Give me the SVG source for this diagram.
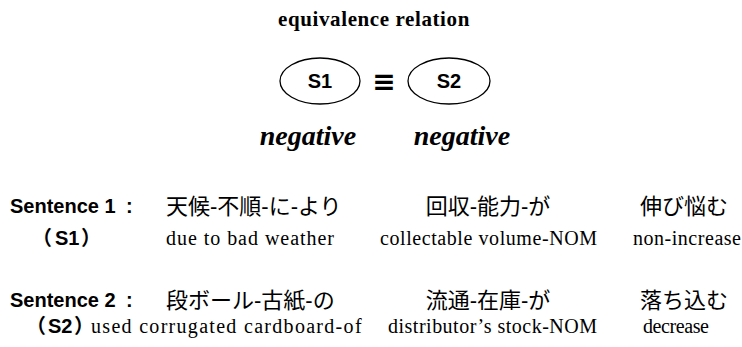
<svg xmlns="http://www.w3.org/2000/svg" width="742" height="347" viewBox="0 0 742 347">
<style>
.title{font-family:"Liberation Serif","Times New Roman",serif;font-weight:bold;font-size:21px;letter-spacing:0.6px;fill:#000}
.neg{font-family:"Liberation Serif","Times New Roman",serif;font-weight:bold;font-style:italic;font-size:28px;fill:#000}
.node{fill:#fff;stroke:#000;stroke-width:1.3}
.nl{font-family:"Liberation Sans",Arial,sans-serif;font-weight:bold;font-size:20px;fill:#000}
.eq{font-family:"DejaVu Sans",sans-serif;font-weight:bold;font-size:28px;fill:#000}
.lab{font-family:"Liberation Sans",Arial,"Noto Sans CJK JP",sans-serif;font-weight:bold;font-size:20px;fill:#000}
.par{font-family:"Noto Sans CJK JP",sans-serif;font-weight:bold;font-size:20px;fill:#000}
.halt{font-feature-settings:"halt"}
.jp{font-family:"Liberation Sans","Noto Sans CJK JP",sans-serif;font-size:22px;fill:#000}
.en{font-family:"Liberation Serif","Times New Roman",serif;font-size:20px;font-weight:normal;fill:#000}
</style>
<rect width="742" height="347" fill="#fff"/>
<text class="title" x="374" y="26" text-anchor="middle">equivalence relation</text>
<g id="node-s1">
<ellipse class="node" cx="320" cy="81" rx="40" ry="23"/>
<text class="nl" x="320" y="88" text-anchor="middle">S1</text>
</g>
<g id="node-s2">
<ellipse class="node" cx="449" cy="81" rx="41" ry="23"/>
<text class="nl" x="449" y="88" text-anchor="middle">S2</text>
</g>
<g id="connectors">
<text class="eq" x="384" y="91" text-anchor="middle">≡</text>
</g>
<text class="neg" x="308" y="145" text-anchor="middle">negative</text>
<text class="neg" x="462" y="145" text-anchor="middle">negative</text>

<text class="lab" x="10" y="213">Sentence 1</text>
<text class="lab" x="126" y="213">:</text>
<text class="jp" x="166" y="214">天候-不順-に-より</text>
<text class="jp" x="488" y="214" text-anchor="middle">回収-能力-が</text>
<text class="jp" x="684" y="214" text-anchor="middle">伸び悩む</text>
<text y="245"><tspan class="par" x="32">（</tspan><tspan class="lab" x="55">S1</tspan><tspan class="par" x="81">）</tspan></text>
<text class="en" x="166" y="245" textLength="168" lengthAdjust="spacing">due to bad weather</text>
<text class="en" x="380" y="245" textLength="217" lengthAdjust="spacing">collectable volume-NOM</text>
<text class="en" x="633" y="245" textLength="108" lengthAdjust="spacing">non-increase</text>

<text class="lab" x="10" y="307">Sentence 2</text>
<text class="lab" x="126" y="307">:</text>
<text class="jp" x="166" y="308">段ボール-古紙-の</text>
<text class="jp" x="488" y="308" text-anchor="middle">流通-在庫-が</text>
<text class="jp" x="684" y="308" text-anchor="middle">落ち込む</text>
<text y="333"><tspan class="par" x="26">（</tspan><tspan class="lab" x="48">S2</tspan><tspan class="par halt" x="74">）</tspan></text>
<text class="en" x="91" y="333" font-size="21" letter-spacing="1.3">used corrugated cardboard-of</text>
<text class="en" x="388" y="333" textLength="209" lengthAdjust="spacing">distributor’s stock-NOM</text>
<text class="en" x="643" y="333" font-size="19" textLength="66" lengthAdjust="spacing">decrease</text>
</svg>
